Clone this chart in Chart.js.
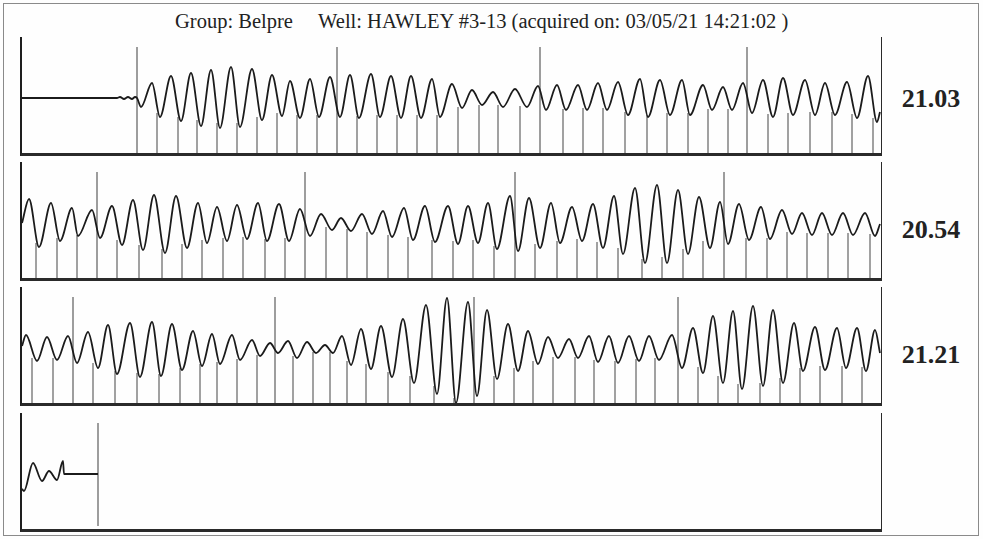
<!DOCTYPE html>
<html>
<head>
<meta charset="utf-8">
<script src="https://cdn.jsdelivr.net/npm/chart.js@4.4.1/dist/chart.umd.min.js"></script>
<style>
  body { margin: 0; background: #fefefe; width: 983px; height: 539px; overflow: hidden; position: relative; font-family: "Liberation Serif", "Times New Roman", serif; }
  #frame { position: absolute; left: 3px; top: 3px; width: 974px; height: 531px; border: 1.5px solid #8a8a8a; }
  #title { position: absolute; left: 175px; top: 11px; font-size: 20.5px; line-height: 20px; color: #222; white-space: pre; }
  .panel { position: absolute; left: 20px; width: 859px; height: 116px; border-left: 2px solid #1e1e1e; border-right: 1px solid #2a2a2a; border-bottom: 3px solid #2a2a2a; }
  .panel canvas { display: block; }
  .depth { position: absolute; left: 891px; width: 80px; text-align: center; font-size: 26px; line-height: 26px; font-weight: bold; color: #222; }
</style>
</head>
<body>
<div id="frame"></div>
<div id="title">Group: Belpre     Well: HAWLEY #3-13 (acquired on: 03/05/21 14:21:02 )</div>

<div class="panel" style="top:37px"><canvas id="c1" width="859" height="116"></canvas></div>
<div class="panel" style="top:162px"><canvas id="c2" width="859" height="116"></canvas></div>
<div class="panel" style="top:287px"><canvas id="c3" width="859" height="116"></canvas></div>
<div class="panel" style="top:413px"><canvas id="c4" width="859" height="116"></canvas></div>

<div class="depth" style="top:86px" id="d1"></div>
<div class="depth" style="top:217px" id="d2"></div>
<div class="depth" style="top:342px" id="d3"></div>

<script>
// values: x = time along the shot (ms-ish units), y = amplitude
const depthLabels = ['21.03', '20.54', '21.21'];

// strip 1 - wave peaks/troughs
const p1WaveX = [0, 95, 98, 102, 106, 110, 113, 115, 119, 130, 138, 149, 159, 169, 179, 189, 198, 209, 218, 230, 240, 250, 260, 268, 278, 288, 297, 308, 318, 328, 337, 349, 358, 369, 379, 389, 399, 410, 418, 430, 440, 450, 460, 471, 481, 493, 505, 516, 524, 535, 544, 556, 565, 576, 585, 596, 606, 618, 626, 638, 648, 660, 668, 681, 690, 701, 710, 721, 730, 741, 751, 761, 771, 783, 793, 803, 813, 825, 835, 846, 855, 858];
const p1WaveY = [0, 0, 1, -1, 1, -1, 1, 0, -9, 15, -19, 22, -23, 25, -28, 28, -30, 31, -29, 29, -22, 23, -18, 17, -20, 19, -19, 21, -19, 23, -20, 24, -19, 22, -20, 22, -20, 19, -19, 14, -10, 8, -7, 6, -9, 9, -9, 12, -12, 13, -12, 13, -12, 15, -12, 16, -17, 19, -19, 18, -17, 18, -17, 13, -12, 11, -12, 15, -15, 18, -19, 20, -17, 18, -17, 15, -17, 16, -20, 22, -24, -14];
const p1TickX = [135, 156, 175, 195, 215, 235, 255, 275, 295, 335, 355, 375, 395, 415, 436, 457, 476, 498, 541, 561, 581, 603, 625, 645, 666, 686, 706, 746, 766, 788, 810, 830, 851];
const p1TickTop = [-15, -19, -22, -25, -25, -19, -15, -17, -17, -18, -17, -17, -17, -17, -9, -7, -7, -8, -11, -10, -10, -14, -17, -15, -15, -11, -11, -16, -15, -14, -14, -16, -20];
const p1MarkX = [115, 315, 518, 725];

// strip 2
const p2WaveX = [0, 7, 17, 29, 38, 50, 56, 70, 78, 90, 100, 111, 121, 132, 143, 154, 165, 176, 185, 195, 205, 215, 225, 236, 245, 257, 267, 278, 288, 299, 310, 319, 329, 340, 350, 361, 370, 382, 391, 403, 413, 426, 436, 446, 456, 466, 475, 488, 496, 507, 518, 529, 538, 550, 560, 571, 581, 592, 601, 613, 623, 635, 645, 656, 666, 677, 688, 698, 706, 717, 727, 739, 748, 760, 770, 780, 790, 800, 810, 821, 831, 843, 853, 858];
const p2WaveY = [0, 24, -24, 20, -18, 15, -13, 13, -15, 17, -22, 23, -27, 28, -30, 27, -25, 20, -20, 16, -18, 18, -16, 20, -18, 19, -18, 14, -13, 9, -7, 5, -8, 9, -11, 12, -14, 15, -17, 17, -19, 17, -21, 17, -20, 20, -26, 27, -28, 25, -25, 20, -20, 16, -18, 19, -25, 27, -31, 35, -40, 38, -40, 33, -31, 26, -25, 21, -21, 19, -17, 16, -16, 13, -11, 10, -12, 10, -12, 10, -12, 10, -13, -1];
const p2TickX = [14, 35, 55, 95, 117, 140, 160, 180, 201, 221, 243, 263, 304, 325, 345, 366, 386, 410, 431, 451, 472, 513, 535, 555, 575, 596, 620, 640, 661, 681, 724, 745, 765, 785, 806, 826, 848];
const p2TickTop = [-20, -15, -12, -17, -22, -26, -21, -17, -15, -14, -16, -15, -4, -6, -9, -12, -14, -17, -18, -17, -23, -21, -18, -16, -19, -25, -36, -34, -26, -18, -15, -15, -9, -10, -10, -10, -11];
const p2MarkX = [75, 283, 493, 702];

// strip 3
const p3WaveX = [0, 4, 15, 25, 35, 46, 55, 66, 76, 86, 95, 108, 118, 130, 139, 150, 160, 171, 180, 190, 198, 210, 218, 230, 238, 248, 256, 266, 275, 285, 294, 303, 311, 320, 329, 339, 349, 359, 370, 381, 392, 404, 415, 425, 434, 446, 455, 465, 475, 486, 496, 506, 516, 526, 536, 547, 556, 567, 576, 587, 596, 607, 617, 627, 637, 650, 660, 671, 681, 691, 701, 711, 720, 731, 741, 751, 761, 772, 781, 793, 803, 815, 824, 835, 844, 853, 858];
const p3WaveY = [2, 13, -13, 11, -12, 12, -15, 16, -20, 23, -26, 25, -29, 26, -28, 24, -22, 17, -18, 14, -16, 13, -12, 8, -8, 5, -5, 7, -10, 6, -5, 3, -5, 12, -17, 19, -21, 22, -29, 29, -35, 43, -46, 50, -55, 46, -48, 38, -31, 24, -23, 17, -16, 11, -10, 9, -10, 12, -14, 12, -15, 12, -13, 12, -12, 13, -20, 20, -25, 32, -35, 37, -41, 42, -38, 38, -35, 25, -23, 21, -22, 20, -20, 20, -23, 18, -5];
const p3TickX = [10, 31, 71, 93, 115, 137, 158, 178, 195, 215, 235, 271, 291, 308, 325, 344, 366, 388, 412, 432, 472, 492, 511, 531, 553, 572, 593, 614, 633, 676, 696, 716, 738, 758, 778, 798, 820, 840];
const p3TickTop = [-10, -10, -15, -23, -25, -26, -20, -16, -14, -11, -7, -8, -4, -4, -13, -16, -24, -28, -38, -50, -28, -20, -13, -9, -9, -12, -13, -11, -10, -19, -28, -36, -35, -30, -20, -18, -18, -19];
const p3MarkX = [51, 253, 452, 656];

// strip 4 (short)
const p4WaveX = [0, 2, 11, 20, 27, 35, 41, 42, 76];
const p4WaveY = [-15, -17, 11, -7, 3, -6, 13, 0, 0];
const p4MarkX = [76];

const markTop = 51;
const yMin = -55, yMax = 61;

function pts(xs, ys) {
    return xs.map((x, i) => ({ x: x, y: ys[i] }));
}

// vertical strokes from the bottom of the strip up to a given height, split by gaps
function strokes(xs, tops, bottom) {
    let out = [];
    xs.forEach((x, i) => {
        out.push({ x: x, y: bottom }, { x: x, y: tops[i] }, { x: x, y: null });
    });
    return out;
}

function makeStrip(id, waveX, waveY, tickX, tickTop, markX, markBottom) {
    let ctx = document.getElementById(id).getContext('2d');
    let datasets = [
        {
            data: pts(waveX, waveY),
            borderColor: '#1b1b1b',
            borderWidth: 1.8,
            pointRadius: 0,
            fill: false,
            cubicInterpolationMode: 'monotone'
        },
        {
            data: strokes(markX, markX.map(() => markTop), markBottom),
            borderColor: '#3c3c3c',
            borderWidth: 1,
            pointRadius: 0,
            tension: 0,
            spanGaps: false
        }
    ];
    if (tickX) {
        datasets.push({
            data: strokes(tickX, tickTop, yMin),
            borderColor: '#444',
            borderWidth: 1,
            pointRadius: 0,
            tension: 0,
            spanGaps: false
        });
    }
    return new Chart(ctx, {
        type: 'line',
        data: { datasets: datasets },
        options: {
            responsive: false,
            animation: false,
            events: [],
            layout: { padding: 0 },
            plugins: { legend: { display: false }, tooltip: { enabled: false } },
            scales: {
                x: { type: 'linear', display: false, min: 0, max: 859 },
                y: { display: false, min: yMin, max: yMax }
            }
        }
    });
}

makeStrip('c1', p1WaveX, p1WaveY, p1TickX, p1TickTop, p1MarkX, yMin);
makeStrip('c2', p2WaveX, p2WaveY, p2TickX, p2TickTop, p2MarkX, yMin);
makeStrip('c3', p3WaveX, p3WaveY, p3TickX, p3TickTop, p3MarkX, yMin);
makeStrip('c4', p4WaveX, p4WaveY, null, null, p4MarkX, -52);

document.getElementById('d1').textContent = depthLabels[0];
document.getElementById('d2').textContent = depthLabels[1];
document.getElementById('d3').textContent = depthLabels[2];
</script>
</body>
</html>
